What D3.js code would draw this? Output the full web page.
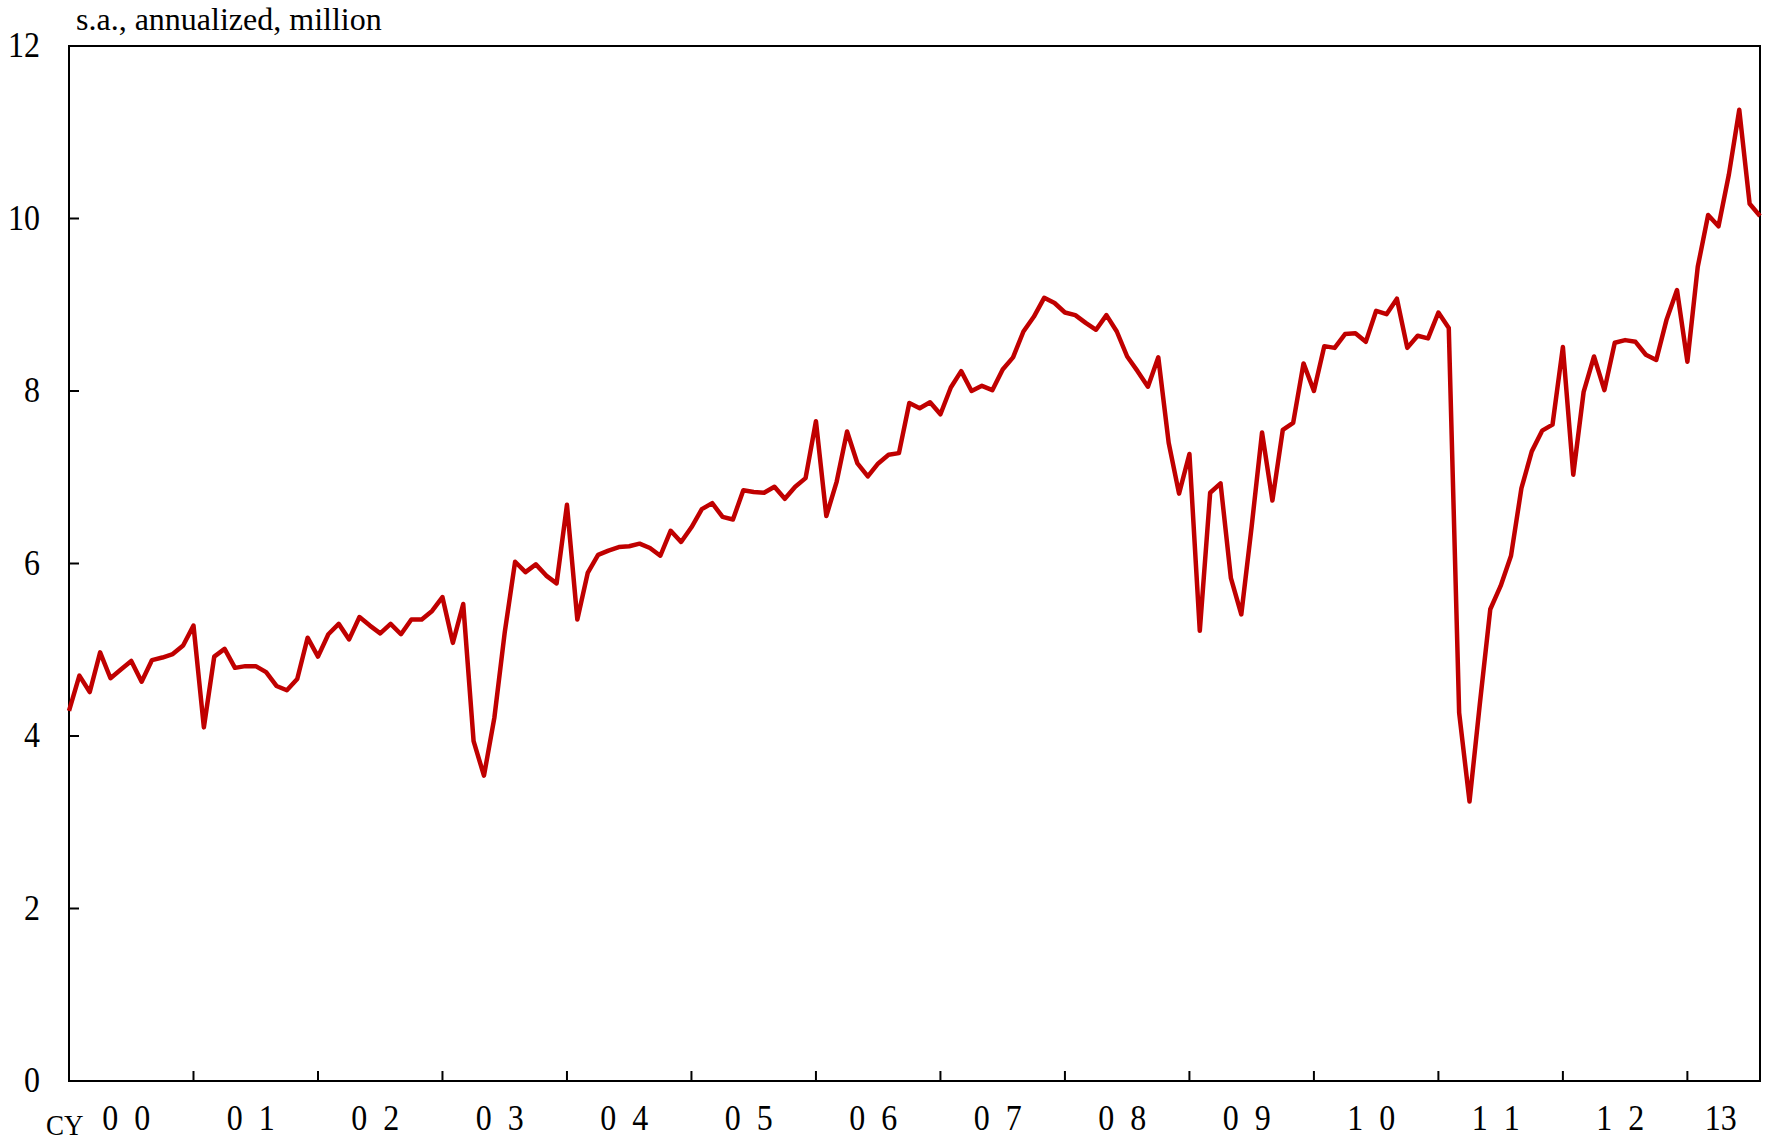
<!DOCTYPE html>
<html>
<head>
<meta charset="utf-8">
<script src="https://cdn.jsdelivr.net/npm/d3@7"></script>
<style>
  body { margin: 0; background: white; }
  svg { display: block; }
  text { font-family: "Liberation Serif", "Times New Roman", serif; fill: black; }
</style>
</head>
<body>
<svg id="chart" width="1771" height="1142"></svg>
<script>
// monthly, s.a. annualized, million units, Jan 2000 .. Aug 2013
const firstYear = 2000;
const v2000 = [4.29, 4.70, 4.51, 4.97, 4.67, 4.77, 4.87, 4.63, 4.88, 4.91, 4.95, 5.05];
const v2001 = [5.28, 4.10, 4.92, 5.01, 4.79, 4.81, 4.81, 4.74, 4.58, 4.53, 4.66, 5.14];
const v2002 = [4.92, 5.18, 5.30, 5.12, 5.38, 5.28, 5.19, 5.30, 5.18, 5.35, 5.35, 5.45];
const v2003 = [5.61, 5.08, 5.53, 3.94, 3.54, 4.21, 5.20, 6.02, 5.90, 5.99, 5.86, 5.77];
const v2004 = [6.68, 5.35, 5.89, 6.10, 6.15, 6.19, 6.20, 6.23, 6.18, 6.09, 6.38, 6.25];
const v2005 = [6.42, 6.63, 6.70, 6.54, 6.51, 6.85, 6.83, 6.82, 6.89, 6.75, 6.89, 6.99];
const v2006 = [7.65, 6.55, 6.95, 7.53, 7.16, 7.01, 7.16, 7.26, 7.28, 7.86, 7.80, 7.87];
const v2007 = [7.73, 8.04, 8.23, 8.00, 8.06, 8.01, 8.25, 8.39, 8.69, 8.86, 9.08, 9.02];
const v2008 = [8.91, 8.88, 8.79, 8.71, 8.88, 8.69, 8.40, 8.23, 8.05, 8.39, 7.40, 6.81];
const v2009 = [7.27, 5.22, 6.82, 6.93, 5.83, 5.41, 6.43, 7.52, 6.73, 7.55, 7.63, 8.32];
const v2010 = [8.00, 8.52, 8.50, 8.66, 8.67, 8.57, 8.93, 8.89, 9.07, 8.50, 8.64, 8.61];
const v2011 = [8.91, 8.73, 4.27, 3.24, 4.38, 5.47, 5.74, 6.09, 6.87, 7.30, 7.54, 7.61];
const v2012 = [8.51, 7.03, 7.99, 8.40, 8.01, 8.56, 8.59, 8.57, 8.42, 8.36, 8.83, 9.17];
const v2013 = [8.34, 9.44, 10.04, 9.91, 10.51, 11.26, 10.17, 10.03];

const yearLabels = ["0 0", "0 1", "0 2", "0 3", "0 4", "0 5", "0 6",
                    "0 7", "0 8", "0 9", "1 0", "1 1", "1 2", "13"];
const yTicks = [0, 2, 4, 6, 8, 10, 12];
const unitLabel = "s.a., annualized, million";
const prefixLabel = "CY";

const values = [].concat(v2000, v2001, v2002, v2003, v2004, v2005, v2006,
                         v2007, v2008, v2009, v2010, v2011, v2012, v2013);

const plotLeft = 69, plotRight = 1760, plotTop = 46, plotBottom = 1081;
const stretch = 1.12;

let svg = d3.select('#chart');

let x = d3.scaleLinear()
  .domain([0, values.length - 1])
  .range([plotLeft, plotRight]);

let y = d3.scaleLinear()
  .domain([0, 12])
  .range([plotBottom, plotTop]);

// frame
svg.append('rect')
  .attr('x', plotLeft)
  .attr('y', plotTop)
  .attr('width', plotRight - plotLeft)
  .attr('height', plotBottom - plotTop)
  .attr('fill', 'none')
  .attr('stroke', 'black')
  .attr('stroke-width', 2);

// y ticks, pointing inward
svg.append('g')
  .selectAll('line')
  .data(yTicks.slice(1, -1))
  .enter().append('line')
  .attr('x1', plotLeft)
  .attr('x2', plotLeft + 10)
  .attr('y1', d => y(d))
  .attr('y2', d => y(d))
  .attr('stroke', 'black')
  .attr('stroke-width', 2);

svg.append('g')
  .selectAll('text')
  .data(yTicks)
  .enter().append('text')
  .attr('transform', d => `translate(40,${y(d) + 11}) scale(1,${stretch})`)
  .attr('text-anchor', 'end')
  .attr('font-size', 32)
  .text(d => d);

// x ticks at each January, pointing up
let yearStarts = d3.range(12, values.length, 12);
svg.append('g')
  .selectAll('line')
  .data(yearStarts)
  .enter().append('line')
  .attr('x1', d => x(d))
  .attr('x2', d => x(d))
  .attr('y1', plotBottom)
  .attr('y2', plotBottom - 10)
  .attr('stroke', 'black')
  .attr('stroke-width', 2);

svg.append('g')
  .selectAll('text')
  .data(yearLabels)
  .enter().append('text')
  .attr('transform', (d, i) => {
    let a = x(i * 12);
    let b = x(Math.min((i + 1) * 12, values.length - 1));
    return `translate(${(a + b) / 2 - 3},1130) scale(1,${stretch})`;
  })
  .attr('text-anchor', 'middle')
  .attr('font-size', 32)
  .attr('letter-spacing', d => d.includes(' ') ? 4 : 0)
  .text(d => d);

svg.append('text')
  .attr('transform', `translate(46,1135) scale(1,${stretch})`)
  .attr('font-size', 27)
  .text(prefixLabel);

svg.append('text')
  .attr('x', 76)
  .attr('y', 30)
  .attr('font-size', 32)
  .text(unitLabel);

// series
let line = d3.line()
  .x((d, i) => x(i))
  .y(d => y(d));

svg.append('path')
  .datum(values)
  .attr('d', line)
  .attr('fill', 'none')
  .attr('stroke', '#c00000')
  .attr('stroke-width', 4.5)
  .attr('stroke-linejoin', 'round');
</script>
</body>
</html>
